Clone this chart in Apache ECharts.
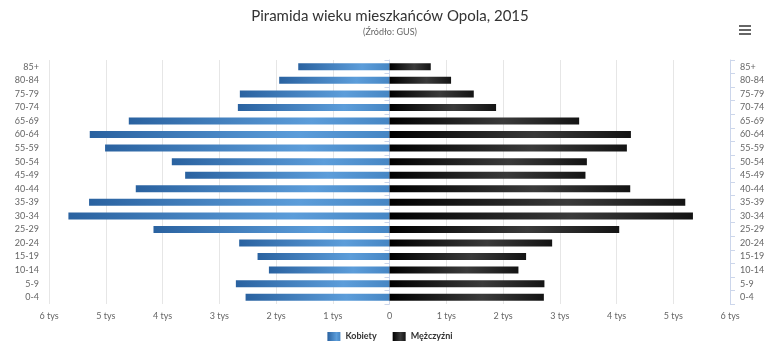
<!DOCTYPE html>
<html>
<head>
<meta charset="utf-8">
<script src="https://cdn.jsdelivr.net/npm/echarts@6/dist/echarts.min.js"></script>
<style>html,body{margin:0;padding:0;background:#fff}#c{width:780px;height:355px}</style>
</head>
<body>
<div id="c"></div>
<script>
var categories = ['0-4','5-9','10-14','15-19','20-24','25-29','30-34','35-39','40-44','45-49','50-54','55-59','60-64','65-69','70-74','75-79','80-84','85+'];
var kobiety = [2536, 2707, 2125, 2325, 2649, 4159, 5658, 5294, 4471, 3601, 3836, 5012, 5282, 4594, 2672, 2637, 1944, 1608];
var mezczyzni = [2720, 2730, 2272, 2407, 2866, 4048, 5347, 5212, 4242, 3453, 3478, 4183, 4254, 3342, 1878, 1485, 1085, 727];
var xTicks = [-6000, 6000, 1000];

var FONT = 'Lato, "Open Sans", "DejaVu Sans", sans-serif';
var chart = echarts.init(document.getElementById('c'), null, {renderer: 'canvas'});

var blueGrad = new echarts.graphic.LinearGradient(0, 0, 1, 0, [
  {offset: 0, color: '#2a62a0'}, {offset: 0.7, color: '#5c9dda'}, {offset: 1, color: '#4686c4'}
]);
var blackGrad = new echarts.graphic.LinearGradient(0, 0, 1, 0, [
  {offset: 0, color: '#000000'}, {offset: 0.6, color: '#3a3a3a'}, {offset: 1, color: '#141414'}
]);

function yAxis(pos) {
  return {
    type: 'category', position: pos, data: categories,
    axisLine: {show: true, lineStyle: {color: '#ccd6eb'}},
    axisTick: {show: true, length: 5, lineStyle: {color: '#ccd6eb'}},
    axisLabel: {color: '#666', fontSize: 9, fontFamily: FONT, margin: 10},
    splitLine: {show: false}
  };
}

chart.setOption({
  animation: false,
  title: {
    text: 'Piramida wieku mieszkańców Opola, 2015',
    subtext: '(Źródło: GUS)',
    left: 'center', top: 4, itemGap: 4,
    textStyle: {color: '#333', fontSize: 15, fontWeight: 'normal', fontFamily: FONT},
    subtextStyle: {color: '#666', fontSize: 9, fontFamily: FONT}
  },
  toolbox: {
    right: 14, top: 10, itemSize: 12,
    feature: {
      myMenu: {
        show: true, title: '',
        icon: 'path://M0,0 L12,0 L12,2 L0,2 Z M0,4 L12,4 L12,6 L0,6 Z M0,8 L12,8 L12,10 L0,10 Z',
        onclick: function () {}
      }
    },
    iconStyle: {color: '#666', borderColor: '#666', borderWidth: 0}
  },
  legend: {
    bottom: 9, left: 'center', itemWidth: 13, itemHeight: 9, itemGap: 16,
    icon: 'rect',
    textStyle: {color: '#333', fontSize: 9, fontWeight: 'bold', fontFamily: FONT},
    data: [{name: 'Kobiety', itemStyle: {color: blueGrad}}, {name: 'Mężczyźni', itemStyle: {color: blackGrad}}]
  },
  grid: {left: 49, right: 50, top: 60, bottom: 51, containLabel: false},
  xAxis: {
    type: 'value', min: xTicks[0], max: xTicks[1], interval: xTicks[2],
    axisLine: {show: false}, axisTick: {show: false},
    splitLine: {show: true, lineStyle: {color: '#e6e6e6'}},
    axisLabel: {
      color: '#666', fontSize: 9, fontFamily: FONT, margin: 8,
      formatter: function (v) { return v === 0 ? '0' : Math.abs(v) / 1000 + ' tys'; }
    }
  },
  yAxis: [yAxis('left'), yAxis('right')],
  series: [
    {
      name: 'Kobiety', type: 'bar', yAxisIndex: 0, barWidth: 7, barGap: '-100%',
      data: kobiety.map(function (v) { return -v; }),
      itemStyle: {color: blueGrad}
    },
    {
      name: 'Mężczyźni', type: 'bar', yAxisIndex: 0, barWidth: 7, barGap: '-100%',
      data: mezczyzni,
      itemStyle: {color: blackGrad}
    }
  ]
});
</script>
</body>
</html>
